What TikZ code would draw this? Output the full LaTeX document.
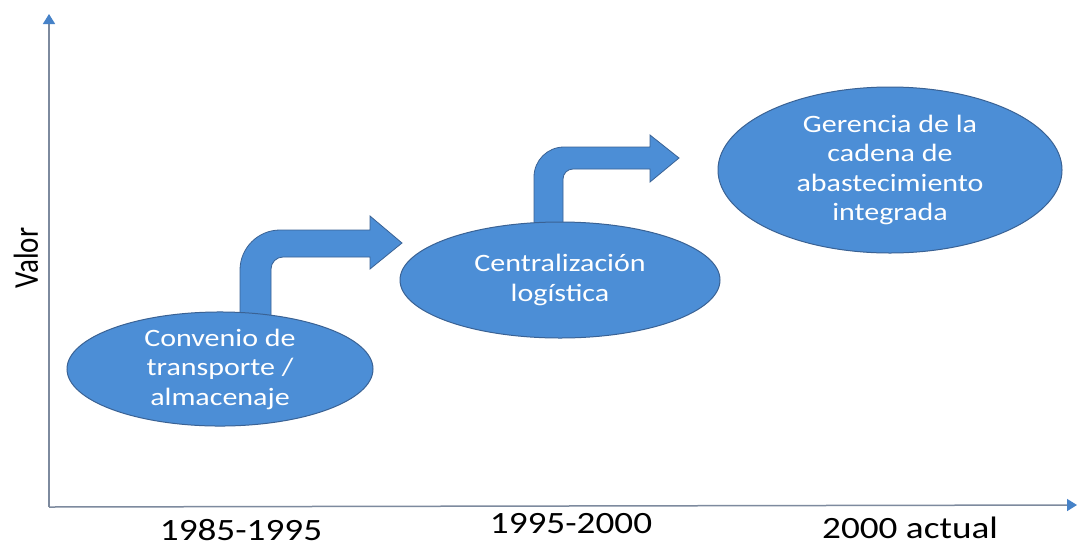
\documentclass[tikz,border=0pt]{standalone}
\usepackage{fontspec}
\setmainfont{Carlito}
\newfontfamily\cfw{Carlito}[FakeStretch=1.2]
\usetikzlibrary{shapes.geometric,arrows.meta}
\definecolor{blobfill}{RGB}{76,142,214}
\definecolor{blobline}{RGB}{58,98,148}
\definecolor{axisline}{RGB}{125,138,158}
\definecolor{axtip}{RGB}{70,130,200}
\begin{document}
\begin{tikzpicture}[x=1pt,y=-1pt,
  blob/.style={ellipse, fill=blobfill, draw=blobline, line width=1pt, inner sep=0pt,
    text=white, align=center, font=\cfw\fontsize{25}{29.5}\selectfont},
  bent/.style={fill=blobfill, draw=blobline, line width=0.8pt, line join=miter},
  axisarrow/.style={draw=axisline, line width=1.5pt,
    -{Triangle[width=12pt,length=10pt,fill=axtip,color=axtip]}},
  yearlbl/.style={font=\cfw\fontsize{31}{36}\selectfont, text=black, inner sep=0pt}
]
\useasboundingbox (0,0) rectangle (1078,547);
\fill[white] (0,0) rectangle (1078,547);

% axes
\coordinate (O) at (49,507);
\coordinate (ytop) at (49,14);
\coordinate (xend) at (1077,505);
\draw[axisarrow] (O) -- (ytop);
\draw[axisarrow] (O) -- (xend);

% bent arrows (drawn before the ellipses so the stems sit behind them)
\draw[bent] (240,320) -- (240,270) .. controls (240,248) and (258,230) .. (280,230)
  -- (370,230) -- (370,216) -- (402,243) -- (370,269) -- (370,257) -- (283,257)
  .. controls (276.4,257) and (271,262.4) .. (271,269) -- (271,320) -- cycle;
\draw[bent] (534,232) -- (534,177) .. controls (534,160.4) and (547.4,147) .. (564,147)
  -- (650,147) -- (650,135) -- (679,158) -- (650,182) -- (650,169) -- (573,169)
  .. controls (567.5,169) and (563,173.5) .. (563,179) -- (563,232) -- cycle;

% ellipses
\node[blob, minimum width=306pt, minimum height=114pt] (e1) at (220,369)
  {Convenio de\\transporte /\\almacenaje};
\node[blob, minimum width=320pt, minimum height=116pt] (e2) at (560,280)
  {Centralización\\logística};
\node[blob, minimum width=344pt, minimum height=166pt] (e3) at (890,170)
  {Gerencia de la\\cadena de\\abastecimiento\\integrada};

% labels
\node[rotate=90, inner sep=0pt] (valor) at (26,258)
  {\scalebox{1}[1.2]{\fontsize{29}{34}\selectfont Valor}};
\node[yearlbl] (p1) at (241,530) {1985-1995};
\node[yearlbl] (p2) at (571,524) {1995-2000};
\node[yearlbl] (p3) at (910,528) {2000 actual};
\end{tikzpicture}
\end{document}
